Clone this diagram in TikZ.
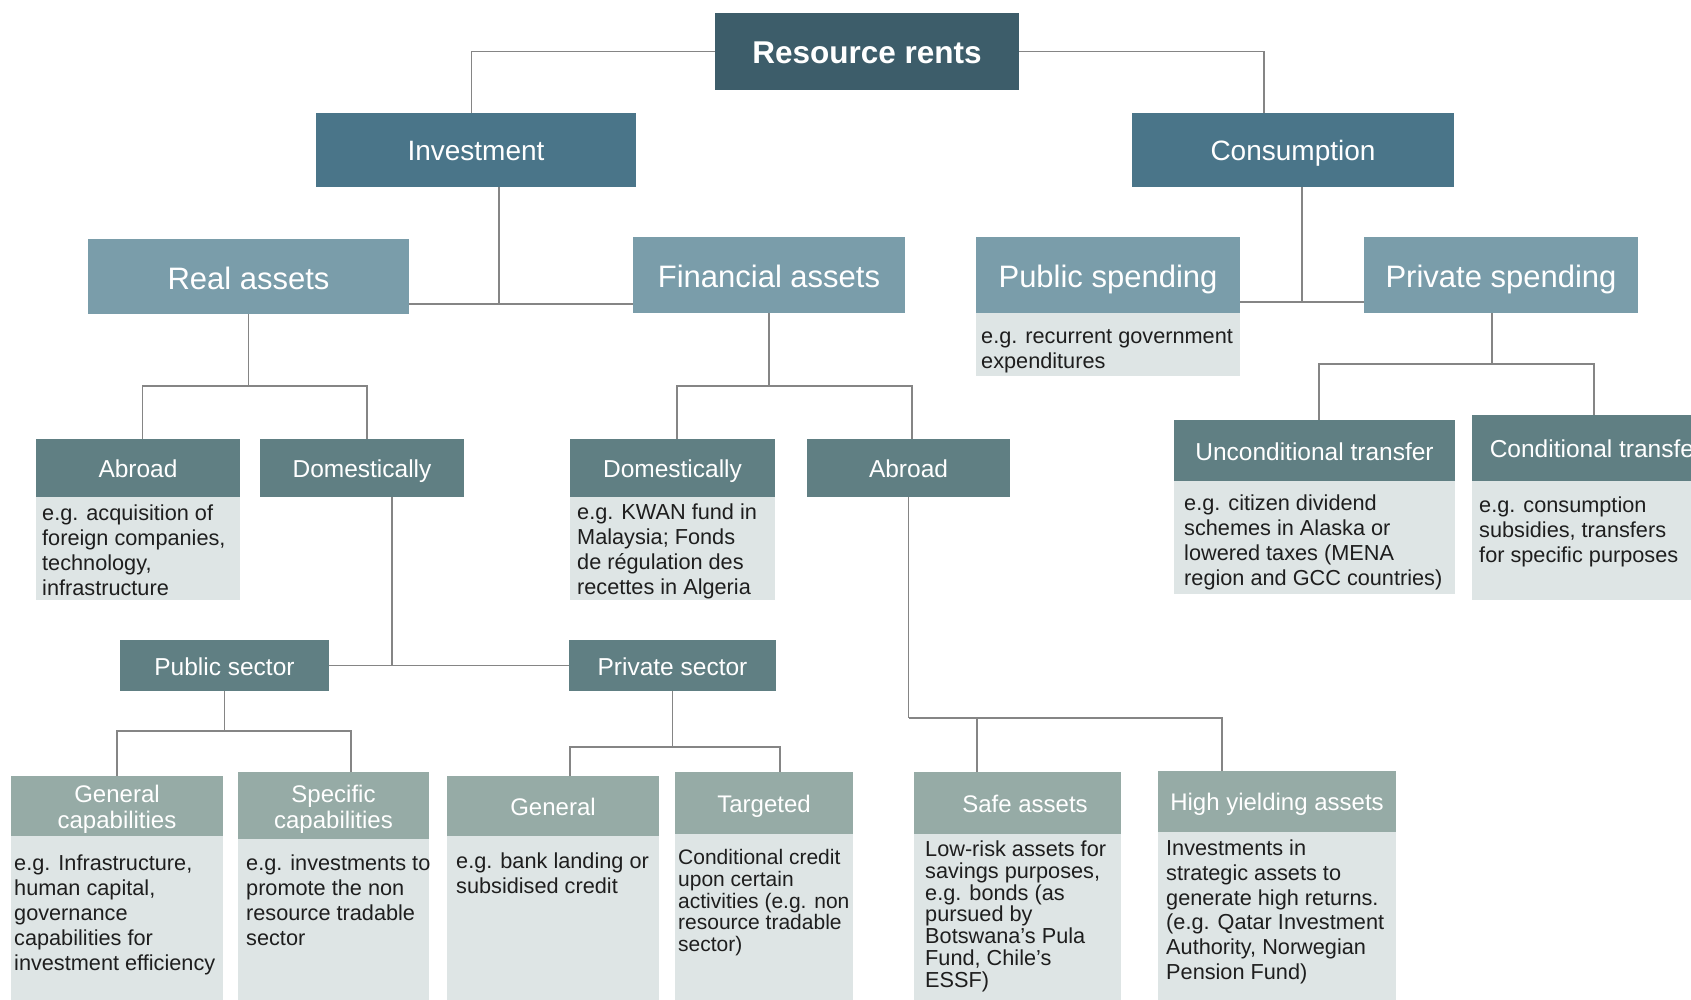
\documentclass[tikz,border=0pt]{standalone}
\usepackage{fontspec}
\setmainfont{Liberation Sans}

\definecolor{rootfill}{HTML}{3D5D6A}
\definecolor{topfill}{HTML}{4A7589}
\definecolor{assetfill}{HTML}{7A9DAA}
\definecolor{subfill}{HTML}{607F83}
\definecolor{leaffill}{HTML}{96ABA6}
\definecolor{descfill}{HTML}{DEE5E5}
\definecolor{linegrey}{HTML}{858585}
\definecolor{textdark}{HTML}{1E1E1E}

\begin{document}
\begin{tikzpicture}[x=1pt, y=-1pt,
    box/.style={inner sep=0pt, outer sep=0pt, text=white, align=center},
    rootbox/.style={box, fill=rootfill, text height=30.1pt, text depth=6.3pt,
        font=\fontsize{31.5}{36}\selectfont\bfseries},
    topbox/.style={box, fill=topfill, text height=27.5pt, text depth=5.6pt,
        font=\fontsize{28}{32}\selectfont},
    assetbox/.style={box, fill=assetfill, text height=31.8pt, text depth=6.2pt,
        font=\fontsize{31}{36}\selectfont},
    subbox/.style={box, fill=subfill, text height=24.4pt, text depth=4.9pt,
        font=\fontsize{24.5}{28}\selectfont},
    leafbox/.style={box, fill=leaffill, font=\fontsize{24}{26}\selectfont},
    oneleaf/.style={leafbox, text height=23pt, text depth=4.8pt},
    desctext/.style={anchor=north west, inner sep=0pt, align=left, text=textdark,
        font=\fontsize{21.7}{24.8}\selectfont},
    conn/.style={draw=linegrey, line width=1.6pt}]
    \useasboundingbox (0,0) rectangle (1691,1000);
    \clip (0,0) rectangle (1691,1000);
    \fill[white] (0,0) rectangle (1691,1000);

    \node[rootbox, minimum width=304, minimum height=77] (rr) at (867,51.5) {Resource rents};
    \node[topbox, minimum width=320, minimum height=74] (inv) at (476,150) {Investment};
    \node[topbox, minimum width=322, minimum height=74] (cons) at (1293,150) {Consumption};

    \node[assetbox, minimum width=321, minimum height=75] (real) at (248.5,276.5) {Real assets};
    \node[assetbox, minimum width=272, minimum height=76] (fin) at (769,275) {Financial assets};
    \node[assetbox, minimum width=264, minimum height=76] (pubsp) at (1108,275) {Public spending};
    \node[assetbox, minimum width=274, minimum height=76] (privsp) at (1501,275) {Private spending};

    \node[subbox, minimum width=204, minimum height=58] (rabr) at (138,468) {Abroad};
    \node[subbox, minimum width=204, minimum height=58] (rdom) at (362,468) {Domestically};
    \node[subbox, minimum width=205, minimum height=58] (fdom) at (672.5,468) {Domestically};
    \node[subbox, minimum width=203, minimum height=58] (fabr) at (908.5,468) {Abroad};
    \node[subbox, minimum width=281, minimum height=61] (uncond) at (1314.5,450.5) {Unconditional transfer};
    \node[subbox, minimum width=248, minimum height=66] (cond) at (1596,448) {Conditional transfer};
    \node[subbox, minimum width=209, minimum height=51] (pubsec) at (224.5,665.5) {Public sector};
    \node[subbox, minimum width=207, minimum height=51] (privsec) at (672.5,665.5) {Private sector};

    \node[leafbox, minimum width=212, minimum height=60] (gencap) at (117,806) {\rule{0pt}{24pt}General\\capabilities};
    \node[leafbox, minimum width=191, minimum height=67] (speccap) at (333.5,805.5) {\rule{0pt}{24pt}Specific\\capabilities};
    \node[oneleaf, minimum width=212, minimum height=60] (gen) at (553,806) {General};
    \node[oneleaf, minimum width=178, minimum height=62] (targ) at (764,803) {Targeted};
    \node[oneleaf, minimum width=207, minimum height=62] (safe) at (1017.5,803) {\hspace*{15pt}Safe assets};
    \node[oneleaf, minimum width=238, minimum height=61] (high) at (1277,801.5) {High yielding assets};

    % description panels
    \fill[descfill] (pubsp.south west) rectangle ++(264,63);
    \fill[descfill] (rabr.south west) rectangle ++(204,103);
    \fill[descfill] (fdom.south west) rectangle ++(205,103);
    \fill[descfill] (uncond.south west) rectangle ++(281,113);
    \fill[descfill] (cond.south west) rectangle ++(248,119);
    \fill[descfill] (gencap.south west) rectangle ++(212,170);
    \fill[descfill] (speccap.south west) rectangle ++(191,170);
    \fill[descfill] (gen.south west) rectangle ++(212,170);
    \fill[descfill] (targ.south west) rectangle ++(178,170);
    \fill[descfill] (safe.south west) rectangle ++(207,170);
    \fill[descfill] (high.south west) rectangle ++(238,170);

    \node[desctext] (pubsptxt) at ([shift={(5,16)}]pubsp.south west) {e.g. recurrent government\\expenditures};
    \node[desctext] (rabrtxt) at ([shift={(6,8)}]rabr.south west) {e.g. acquisition of\\foreign companies,\\technology,\\infrastructure};
    \node[desctext] (fdomtxt) at ([shift={(7,7)}]fdom.south west) {e.g. KWAN fund in\\Malaysia; Fonds\\de régulation des\\recettes in Algeria};
    \node[desctext] (uncondtxt) at ([shift={(10,14)}]uncond.south west) {e.g. citizen dividend\\schemes in Alaska or\\lowered taxes (MENA\\region and GCC countries)};
    \node[desctext] (condtxt) at ([shift={(7,16)}]cond.south west) {e.g. consumption\\subsidies, transfers\\for specific purposes};
    \node[desctext] (gencaptxt) at ([shift={(3,19)}]gencap.south west) {e.g. Infrastructure,\\human capital,\\governance\\capabilities for\\investment efficiency};
    \node[desctext] (speccaptxt) at ([shift={(8,16)}]speccap.south west) {e.g. investments to\\promote the non\\resource tradable\\sector};
    \node[desctext] (gentxt) at ([shift={(9,16.5)}]gen.south west) {e.g. bank landing or\\subsidised credit};
    \node[desctext, font=\fontsize{21}{21.8}\selectfont] (targtxt) at ([shift={(3,15)}]targ.south west) {Conditional credit\\upon certain\\activities (e.g. non\\resource tradable\\sector)};
    \node[desctext, font=\fontsize{21.7}{21.8}\selectfont] (safetxt) at ([shift={(11,6.5)}]safe.south west) {Low-risk assets for\\savings purposes,\\e.g. bonds (as\\pursued by\\Botswana’s Pula\\Fund, Chile’s\\ESSF)};
    \node[desctext] (hightxt) at ([shift={(8,7.5)}]high.south west) {Investments in\\strategic assets to\\generate high returns.\\(e.g. Qatar Investment\\Authority, Norwegian\\Pension Fund)};

    % connectors
    \draw[conn] (rr.west) -| ([xshift=-4.5pt]inv.north);
    \draw[conn] (rr.east) -| ([xshift=-29pt]cons.north);

    \draw[conn] ([xshift=23pt]inv.south) -- ++(0,117) coordinate (invj);
    \draw[conn] (real.east |- invj) -- (fin.west |- invj);
    \draw[conn] ([xshift=9pt]cons.south) -- ++(0,115) coordinate (consj);
    \draw[conn] (pubsp.east |- consj) -- (privsp.west |- consj);

    \draw[conn] (real.south) -- ++(0,72) coordinate (realj);
    \draw[conn] ([xshift=4.5pt]rabr.north) |- (realj) -| ([xshift=5pt]rdom.north);
    \draw[conn] (fin.south) -- ++(0,73) coordinate (finj);
    \draw[conn] ([xshift=4.5pt]fdom.north) |- (finj) -| ([xshift=3.5pt]fabr.north);

    \draw[conn] ([xshift=30pt]rdom.south) -- ++(0,168) coordinate (rdomj);
    \draw[conn] (pubsec.east) -- (privsec.west);

    \draw[conn] (pubsec.south) -- ++(0,40) coordinate (pubj);
    \draw[conn] (gencap.north) |- (pubj) -| ([xshift=17.5pt]speccap.north);
    \draw[conn] (privsec.south) -- ++(0,56) coordinate (privj);
    \draw[conn] ([xshift=17pt]gen.north) |- (privj) -| ([xshift=16pt]targ.north);

    \draw[conn] (fabr.south) -- ++(0,221) coordinate (fabrj);
    \draw[conn] ([xshift=-40.5pt]safe.north) |- (fabrj);
    \draw[conn] (fabrj) -| ([xshift=-55pt]high.north);

    \draw[conn] ([xshift=-9pt]privsp.south) -- ++(0,51) coordinate (privspj);
    \draw[conn] ([xshift=4.5pt]uncond.north) |- (privspj) -| ([xshift=-2pt]cond.north);
\end{tikzpicture}
\end{document}
